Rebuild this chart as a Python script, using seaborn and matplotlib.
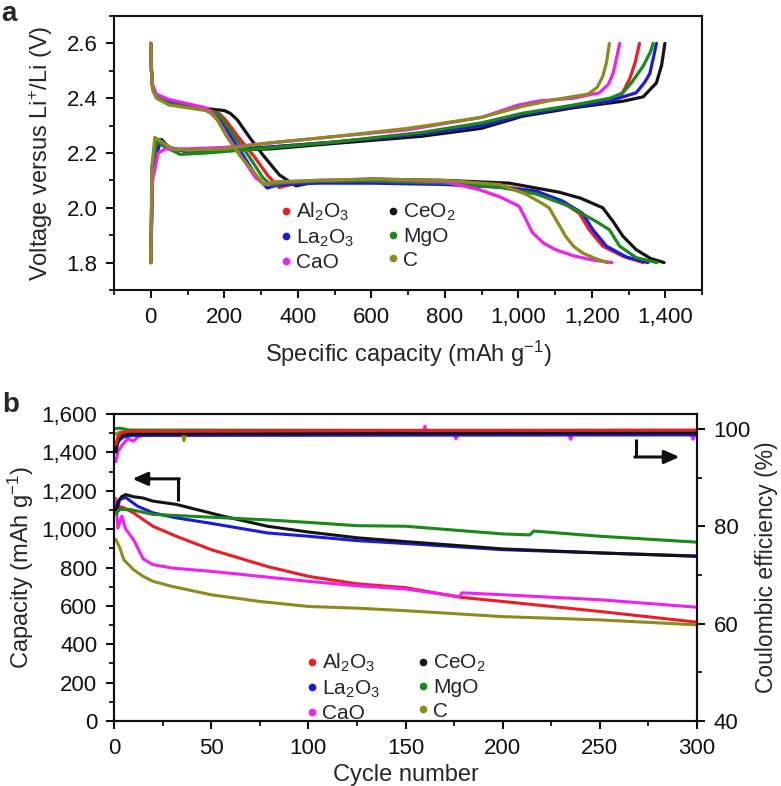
import numpy as np
import pandas as pd
import matplotlib
matplotlib.use('Agg')
import matplotlib.pyplot as plt
import seaborn as sns
from matplotlib.ticker import MultipleLocator, FuncFormatter, FixedLocator
from matplotlib.lines import Line2D

# ---------------- data: panel a (voltage profiles) ----------------
al_dis_cap = [0, 2, 5, 15, 50, 100, 150, 185, 203, 240, 281, 320, 350, 380, 450, 600, 800, 950, 1050, 1120, 1166, 1193, 1230, 1285, 1340]
al_dis_v = [2.60, 2.50, 2.44, 2.41, 2.383, 2.372, 2.36, 2.345, 2.322, 2.255, 2.188, 2.115, 2.074, 2.085, 2.095, 2.095, 2.09, 2.08, 2.06, 2.02, 1.98, 1.92, 1.86, 1.823, 1.80]
la_dis_cap = [0, 2, 5, 15, 50, 100, 150, 175, 190, 220, 253, 290, 317, 345, 450, 600, 800, 950, 1050, 1120, 1175, 1203, 1240, 1295, 1353]
la_dis_v = [2.60, 2.50, 2.44, 2.41, 2.383, 2.372, 2.36, 2.345, 2.322, 2.255, 2.188, 2.11, 2.072, 2.083, 2.09, 2.09, 2.085, 2.075, 2.06, 2.025, 1.98, 1.92, 1.86, 1.82, 1.80]
ca_dis_cap = [0, 2, 5, 15, 50, 100, 150, 165, 182, 212, 246, 285, 310, 340, 450, 600, 800, 892, 950, 1002, 1020, 1038, 1070, 1102, 1150, 1200, 1255]
ca_dis_v = [2.60, 2.50, 2.45, 2.415, 2.395, 2.38, 2.365, 2.35, 2.322, 2.255, 2.188, 2.11, 2.085, 2.092, 2.10, 2.105, 2.095, 2.067, 2.04, 2.006, 1.96, 1.91, 1.87, 1.847, 1.825, 1.81, 1.80]
ce_dis_cap = [0, 2, 5, 15, 50, 100, 150, 200, 216, 235, 270, 308, 350, 395, 430, 600, 800, 975, 1111, 1170, 1230, 1258, 1285, 1321, 1360, 1397]
ce_dis_v = [2.60, 2.50, 2.44, 2.41, 2.383, 2.372, 2.362, 2.355, 2.345, 2.322, 2.255, 2.188, 2.12, 2.08, 2.09, 2.105, 2.10, 2.09, 2.057, 2.035, 2.0, 1.95, 1.896, 1.847, 1.815, 1.80]
mg_dis_cap = [0, 2, 5, 15, 50, 100, 150, 180, 195, 230, 267, 305, 328, 360, 450, 600, 800, 950, 1050, 1138, 1212, 1248, 1276, 1321, 1377]
mg_dis_v = [2.60, 2.50, 2.44, 2.405, 2.38, 2.37, 2.358, 2.345, 2.322, 2.255, 2.188, 2.11, 2.082, 2.09, 2.097, 2.098, 2.09, 2.075, 2.05, 2.006, 1.95, 1.92, 1.86, 1.818, 1.80]
c_dis_cap = [0, 2, 5, 15, 50, 100, 150, 163, 180, 207, 244, 290, 307, 340, 450, 600, 800, 950, 1020, 1060, 1084, 1110, 1129, 1150, 1175, 1210, 1242]
c_dis_v = [2.60, 2.49, 2.43, 2.40, 2.375, 2.365, 2.355, 2.345, 2.322, 2.26, 2.188, 2.115, 2.085, 2.095, 2.10, 2.105, 2.10, 2.085, 2.05, 2.02, 2.0, 1.94, 1.896, 1.86, 1.835, 1.815, 1.80]

al_chg_cap = [0, 4, 20, 45, 100, 200, 326, 500, 737, 900, 1011, 1150, 1250, 1280, 1303, 1318, 1330]
al_chg_v = [1.80, 2.15, 2.25, 2.222, 2.205, 2.21, 2.222, 2.24, 2.27, 2.30, 2.34, 2.37, 2.39, 2.41, 2.47, 2.53, 2.60]
la_chg_cap = [0, 5, 29, 50, 100, 200, 326, 500, 737, 900, 1011, 1150, 1250, 1321, 1345, 1358, 1368, 1376]
la_chg_v = [1.80, 2.15, 2.25, 2.22, 2.205, 2.21, 2.222, 2.24, 2.27, 2.30, 2.34, 2.37, 2.39, 2.42, 2.46, 2.49, 2.55, 2.60]
ca_chg_cap = [0, 5, 20, 40, 100, 200, 326, 500, 700, 900, 1000, 1057, 1150, 1221, 1245, 1258, 1268, 1276]
ca_chg_v = [1.80, 2.10, 2.20, 2.215, 2.215, 2.22, 2.237, 2.26, 2.285, 2.33, 2.375, 2.39, 2.40, 2.42, 2.45, 2.49, 2.55, 2.60]
ce_chg_cap = [0, 5, 20, 45, 100, 200, 326, 500, 737, 900, 1011, 1150, 1285, 1340, 1376, 1390, 1399]
ce_chg_v = [1.80, 2.15, 2.25, 2.22, 2.205, 2.21, 2.215, 2.235, 2.261, 2.29, 2.334, 2.365, 2.389, 2.405, 2.456, 2.52, 2.60]
mg_chg_cap = [0, 4, 15, 35, 80, 150, 326, 500, 737, 900, 1011, 1150, 1250, 1285, 1310, 1340, 1360, 1367]
mg_chg_v = [1.80, 2.15, 2.245, 2.225, 2.195, 2.20, 2.219, 2.24, 2.275, 2.31, 2.345, 2.375, 2.40, 2.42, 2.46, 2.517, 2.57, 2.60]
c_chg_cap = [0, 3, 11, 30, 60, 100, 200, 326, 500, 700, 900, 1011, 1100, 1190, 1215, 1230, 1240, 1248]
c_chg_v = [1.80, 2.15, 2.257, 2.24, 2.215, 2.21, 2.215, 2.237, 2.26, 2.29, 2.33, 2.37, 2.395, 2.415, 2.44, 2.48, 2.53, 2.60]

# ---------------- data: panel b (cycling) ----------------
al_cyc = [1, 2, 5, 10, 20, 32, 50, 79, 100, 125, 150, 178, 200, 250, 300]
al_cap = [1080, 1120, 1111, 1085, 1015, 963, 893, 805, 754, 715, 695, 645, 623, 571, 515]
la_cyc = [1, 3, 6, 12, 20, 32, 50, 79, 100, 125, 150, 200, 250, 300]
la_cap = [1080, 1155, 1165, 1120, 1085, 1059, 1030, 980, 963, 940, 925, 893, 876, 860]
ca_cyc = [1, 2, 4, 6, 10, 15, 20, 30, 50, 75, 100, 125, 150, 178, 179, 200, 250, 300]
ca_cap = [1160, 1005, 1068, 1000, 946, 845, 815, 797, 780, 754, 728, 705, 688, 648, 668, 658, 632, 593]
ce_cyc = [1, 2, 4, 6, 10, 15, 20, 32, 39, 56, 79, 100, 125, 150, 200, 250, 300]
ce_cap = [1100, 1140, 1170, 1180, 1169, 1162, 1146, 1129, 1111, 1068, 1015, 985, 955, 935, 897, 876, 858]
mg_cyc = [1, 3, 8, 20, 50, 79, 100, 125, 150, 200, 214, 216, 250, 300]
mg_cap = [1080, 1103, 1103, 1077, 1062, 1048, 1035, 1018, 1015, 975, 970, 990, 963, 932]
c_cyc = [1, 3, 5, 10, 15, 20, 30, 50, 75, 100, 125, 150, 200, 250, 300]
c_cap = [946, 902, 841, 789, 754, 728, 701, 658, 623, 597, 588, 575, 544, 527, 501]

al_ce_cyc = [1, 2, 4, 8, 300]
al_ce = [96.8, 98.5, 99.3, 99.6, 99.8]
la_ce_cyc = [1, 3, 5, 10, 300]
la_ce = [96.5, 97.8, 98.4, 98.7, 98.8]
ca_ce_cyc = [1, 2, 4, 7, 10, 12, 15, 159, 160, 161, 175, 176, 177, 234, 235, 236, 297, 298, 299, 300]
ca_ce = [93.3, 95.4, 96.6, 98.0, 97.5, 98.3, 98.8, 98.9, 100.6, 98.9, 98.9, 98.0, 98.9, 98.9, 97.9, 98.9, 98.9, 97.9, 98.9, 98.9]
ce_ce_cyc = [1, 2, 4, 8, 300]
ce_ce = [95.3, 97.5, 98.7, 99.0, 99.2]
mg_ce_cyc = [1, 3, 8, 300]
mg_ce = [100.1, 100.2, 99.8, 99.7]
c_ce_cyc = [1, 3, 8, 35, 36, 37, 300]
c_ce = [99.0, 99.4, 99.4, 99.4, 97.6, 99.4, 99.4]

names = ['Al2O3', 'La2O3', 'CaO', 'CeO2', 'MgO', 'C']
legend_labels = [r'Al$_2$O$_3$', r'La$_2$O$_3$', 'CaO', r'CeO$_2$', 'MgO', 'C']
colors = ['#ee1c24', '#1a1ae6', '#f020f0', '#141414', '#178a17', '#8c8c1c']

# ---------------- build tables ----------------
dis = [(al_dis_cap, al_dis_v), (la_dis_cap, la_dis_v), (ca_dis_cap, ca_dis_v),
       (ce_dis_cap, ce_dis_v), (mg_dis_cap, mg_dis_v), (c_dis_cap, c_dis_v)]
chg = [(al_chg_cap, al_chg_v), (la_chg_cap, la_chg_v), (ca_chg_cap, ca_chg_v),
       (ce_chg_cap, ce_chg_v), (mg_chg_cap, mg_chg_v), (c_chg_cap, c_chg_v)]
rows = []
for n, (dc, dv), (cc, cv) in zip(names, dis, chg):
    for x, y in zip(dc, dv):
        rows.append((n, n + '_d', x, y))
    for x, y in zip(cc, cv):
        rows.append((n, n + '_c', x, y))
df_a = pd.DataFrame(rows, columns=['mat', 'seg', 'cap', 'v'])

caps = [(al_cyc, al_cap), (la_cyc, la_cap), (ca_cyc, ca_cap), (ce_cyc, ce_cap), (mg_cyc, mg_cap), (c_cyc, c_cap)]
ces = [(al_ce_cyc, al_ce), (la_ce_cyc, la_ce), (ca_ce_cyc, ca_ce), (ce_ce_cyc, ce_ce), (mg_ce_cyc, mg_ce), (c_ce_cyc, c_ce)]
df_cap = pd.DataFrame([(n, x, y) for n, (cx, cy) in zip(names, caps) for x, y in zip(cx, cy)],
                      columns=['mat', 'cycle', 'cap'])
df_ce = pd.DataFrame([(n, x, y) for n, (cx, cy) in zip(names, ces) for x, y in zip(cx, cy)],
                     columns=['mat', 'cycle', 'ce'])

palette = dict(zip(names, colors))

# ---------------- style ----------------
sns.set_style('ticks')
plt.rcParams['font.family'] = ['Liberation Sans', 'DejaVu Sans']
plt.rcParams['mathtext.default'] = 'regular'
plt.rcParams['axes.linewidth'] = 1.5
plt.rcParams['axes.edgecolor'] = '#111111'

W, H = 781, 786
fig = plt.figure(figsize=(W / 100, H / 100), dpi=100)

def px_axes(l, t, r, b):
    return fig.add_axes([l / W, 1 - b / H, (r - l) / W, (b - t) / H])

TICK = 16
LAB = 17

def style_ticks(ax):
    ax.tick_params(axis='both', which='major', direction='out', length=6, width=1.5,
                   labelsize=TICK, pad=6, colors='#111111')
    ax.tick_params(axis='both', which='minor', direction='out', length=3.5, width=1.3, colors='#111111')

fmt = FuncFormatter(lambda v, p: f'{int(round(v)):,}')

# ---------------- panel a ----------------
ax1 = px_axes(114, 16, 702, 290)
order_a = ['CeO2', 'Al2O3', 'La2O3', 'MgO', 'CaO', 'C']
sns.lineplot(data=df_a, x='cap', y='v', hue='mat', units='seg', estimator=None, sort=False,
             hue_order=order_a, palette=palette, lw=2.3, legend=False, ax=ax1)
ax1.set_xlim(-100, 1500)
ax1.set_ylim(1.7, 2.7)
ax1.xaxis.set_major_locator(FixedLocator([0, 200, 400, 600, 800, 1000, 1200, 1400]))
ax1.xaxis.set_minor_locator(MultipleLocator(100))
ax1.xaxis.set_major_formatter(fmt)
ax1.yaxis.set_major_locator(FixedLocator([1.8, 2.0, 2.2, 2.4, 2.6]))
ax1.yaxis.set_minor_locator(MultipleLocator(0.1))
ax1.yaxis.set_major_formatter(FuncFormatter(lambda v, p: f'{v:.1f}'))
style_ticks(ax1)
ax1.set_xlabel(r'Specific capacity (mAh g$^{-1}$)', fontsize=LAB, labelpad=8)
ax1.set_ylabel(r'Voltage versus Li$^{+}$/Li (V)', fontsize=LAB, labelpad=8)

handles = [Line2D([], [], ls='', marker='o', markersize=4.5, color=c) for c in colors]
leg1 = ax1.legend(handles, legend_labels, ncol=2, loc='upper left', bbox_to_anchor=(0.283, 0.325),
                  frameon=False, fontsize=15, handlelength=0.5, handletextpad=0.25,
                  columnspacing=1.6, labelspacing=0.2, borderpad=0, borderaxespad=0)

# ---------------- panel b ----------------
ax2 = px_axes(114, 414, 697, 721)
sns.lineplot(data=df_cap, x='cycle', y='cap', hue='mat', estimator=None, sort=False,
             hue_order=names, palette=palette, lw=2.2, legend=False, ax=ax2)
ax2.set_xlim(0, 300)
ax2.set_ylim(0, 1600)
ax2.xaxis.set_major_locator(MultipleLocator(50))
ax2.xaxis.set_minor_locator(MultipleLocator(25))
ax2.yaxis.set_major_locator(MultipleLocator(200))
ax2.yaxis.set_minor_locator(MultipleLocator(100))
ax2.yaxis.set_major_formatter(fmt)
style_ticks(ax2)
ax2.set_xlabel('Cycle number', fontsize=LAB, labelpad=4)
ax2.set_ylabel(r'Capacity (mAh g$^{-1}$)', fontsize=LAB, labelpad=4)

ax3 = ax2.twinx()
order_ce = ['CaO', 'La2O3', 'C', 'MgO', 'CeO2', 'Al2O3']
sns.lineplot(data=df_ce, x='cycle', y='ce', hue='mat', estimator=None, sort=False,
             hue_order=order_ce, palette=palette, lw=2.2, legend=False, ax=ax3)
ax3.set_ylim(40, 103.1)
ax3.yaxis.set_major_locator(FixedLocator([40, 60, 80, 100]))
ax3.yaxis.set_minor_locator(FixedLocator([50, 70, 90]))
style_ticks(ax3)
ax3.set_ylabel('Coulombic efficiency (%)', fontsize=16.5, labelpad=3)
ax3.set_xlim(0, 300)

leg2 = ax2.legend(handles, legend_labels, ncol=2, loc='upper left', bbox_to_anchor=(0.33, 0.225),
                  frameon=False, fontsize=15, handlelength=0.5, handletextpad=0.25,
                  columnspacing=1.8, labelspacing=0.2, borderpad=0, borderaxespad=0)

# arrows
ax2.plot([33, 33], [1145, 1262], color='#111111', lw=2.2, solid_capstyle='butt')
ax2.annotate('', xy=(9.5, 1262), xytext=(33.6, 1262),
             arrowprops=dict(arrowstyle='-|>,head_length=0.9,head_width=0.4', color='#111111', lw=2.2,
                             shrinkA=0, shrinkB=0))
ax2.plot([268.6, 268.6], [1469, 1376], color='#111111', lw=2.2, solid_capstyle='butt')
ax2.annotate('', xy=(291, 1376), xytext=(268, 1376),
             arrowprops=dict(arrowstyle='-|>,head_length=0.9,head_width=0.4', color='#111111', lw=2.2,
                             shrinkA=0, shrinkB=0))

fig.text(1 / W, 1 - 21 / H, 'a', fontsize=20, fontweight='bold', va='baseline', ha='left')
fig.text(2 / W, 1 - 412 / H, 'b', fontsize=20, fontweight='bold', va='baseline', ha='left')

fig.savefig('out.png', dpi=100)
